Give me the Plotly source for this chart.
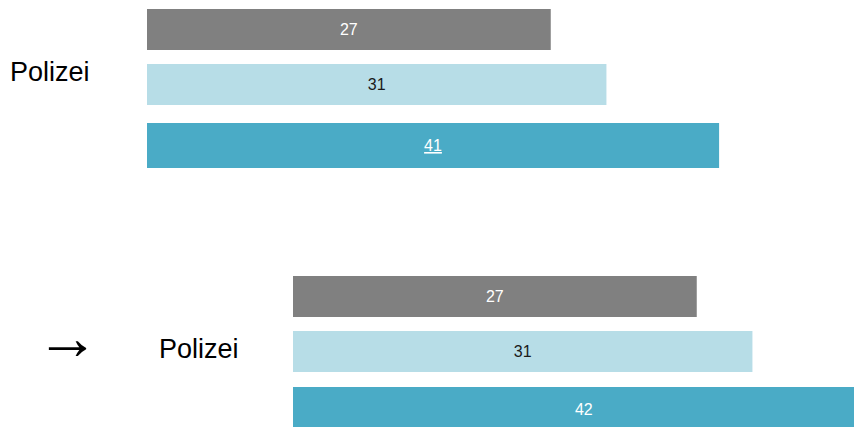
import plotly.graph_objects as go

# ---- data ----
group_label = "Polizei"
top_values = [27, 31, 41]
bottom_values = [27, 31, 42]
top_labels = ["27", "31", "41"]
bottom_labels = ["27", "31", "42"]
series_colors = ["#808080", "#b7dde7", "#4aabc6"]
text_colors = ["#ffffff", "#1a1a1a", "#ffffff"]

# ---- layout constants (pixels) ----
W, H = 854, 427
top_y = [29.5, 84.5, 145.5]
top_h = [41, 41, 45]
bot_y = [296.5, 351.5, 409.5]
bot_h = [41, 41, 45]
px_per_decade = 927.9
log_start = 1 - 3.5 / 927.9
top_x0, bot_x0 = 147, 293

fig = go.Figure()

top_text = [top_labels[0], top_labels[1],
            '<span style="text-decoration:underline">' + top_labels[2] + '</span>']

fig.add_trace(go.Bar(
    x=top_values, y=top_y, width=top_h, orientation="h",
    marker=dict(color=series_colors, line=dict(width=0)),
    text=top_text, textposition="inside", insidetextanchor="middle",
    textfont=dict(family="Liberation Sans, Arial", size=16, color=text_colors),
    xaxis="x", yaxis="y", hoverinfo="skip", showlegend=False,
))
fig.add_trace(go.Bar(
    x=bottom_values, y=bot_y, width=bot_h, orientation="h",
    marker=dict(color=series_colors, line=dict(width=0)),
    text=bottom_labels, textposition="inside", insidetextanchor="middle",
    textfont=dict(family="Liberation Sans, Arial", size=16, color=text_colors),
    xaxis="x2", yaxis="y", hoverinfo="skip", showlegend=False,
))

hidden = dict(showgrid=False, zeroline=False, showticklabels=False,
              showline=False, ticks="")
fig.update_layout(
    width=W, height=H,
    margin=dict(l=0, r=0, t=0, b=0),
    paper_bgcolor="white", plot_bgcolor="rgba(0,0,0,0)",
    xaxis=dict(type="log", domain=[top_x0 / W, 1],
               range=[log_start, log_start + (W - top_x0) / px_per_decade],
               anchor="y", **hidden),
    xaxis2=dict(type="log", domain=[bot_x0 / W, 1],
                range=[log_start, log_start + (W - bot_x0) / px_per_decade],
                anchor="y", **hidden),
    yaxis=dict(range=[H, 0], domain=[0, 1], anchor="x", **hidden),
    annotations=[
        dict(text=group_label, x=8 / W, y=1 - 72.5 / H, xref="paper", yref="paper",
             xanchor="left", yanchor="middle", showarrow=False,
             font=dict(family="Liberation Sans, Arial", size=27, color="black")),
        dict(text="→", x=67 / W, y=1 - 337 / H, xref="paper", yref="paper",
             xanchor="center", yanchor="middle", showarrow=False,
             font=dict(family="Liberation Sans, Arial", size=63, color="black")),
        dict(text=group_label, x=157 / W, y=1 - 348.5 / H, xref="paper", yref="paper",
             xanchor="left", yanchor="middle", showarrow=False,
             font=dict(family="Liberation Sans, Arial", size=27, color="black")),
    ],
)

fig.write_html("out.html")
